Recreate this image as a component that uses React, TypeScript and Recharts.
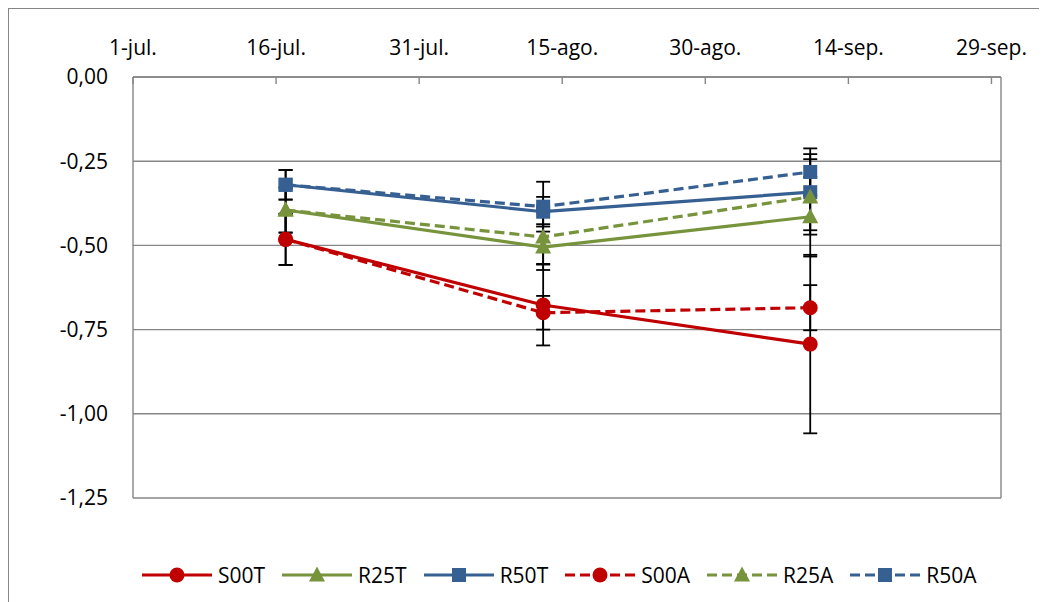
import React from "react";
import { CartesianGrid, ErrorBar, Legend, Line, LineChart, ReferenceLine, XAxis, YAxis } from "recharts";

// sampling dates, as days after 1-jul.
const days = [16, 43, 71];

const xTicks = [0, 15, 30, 45, 60, 75, 90];
const xTickLabels = ["1-jul.", "16-jul.", "31-jul.", "15-ago.", "30-ago.", "14-sep.", "29-sep."];
const yTicks = [0, -0.25, -0.5, -0.75, -1, -1.25];

const S00T = [-0.482, -0.677, -0.793];
const R25T = [-0.395, -0.505, -0.415];
const R50T = [-0.32, -0.4, -0.342];
const S00A = [-0.482, -0.7, -0.685];
const R25A = [-0.395, -0.475, -0.356];
const R50A = [-0.32, -0.385, -0.282];

const S00T_err = [0.076, 0.12, 0.265];
const R25T_err = [0.067, 0.068, 0.118];
const R50T_err = [0.044, 0.044, 0.113];
const S00A_err = [0.076, 0.05, 0.067];
const R25A_err = [0.067, 0.08, 0.112];
const R50A_err = [0.044, 0.074, 0.07];

const RED = "#C00000";
const GREEN = "#77933C";
const BLUE = "#376092";
const GRID = "#868686";

type Shape = "circle" | "triangle" | "square";
type Series = { key: string; color: string; dashed: boolean; shape: Shape; values: number[]; errors: number[] };

const series: Series[] = [
  { key: "S00T", color: RED, dashed: false, shape: "circle", values: S00T, errors: S00T_err },
  { key: "R25T", color: GREEN, dashed: false, shape: "triangle", values: R25T, errors: R25T_err },
  { key: "R50T", color: BLUE, dashed: false, shape: "square", values: R50T, errors: R50T_err },
  { key: "S00A", color: RED, dashed: true, shape: "circle", values: S00A, errors: S00A_err },
  { key: "R25A", color: GREEN, dashed: true, shape: "triangle", values: R25A, errors: R25A_err },
  { key: "R50A", color: BLUE, dashed: true, shape: "square", values: R50A, errors: R50A_err },
];

const data = days.map((d, i) => {
  const row: Record<string, number> = { day: d };
  series.forEach((s) => {
    row[s.key] = s.values[i];
    row[s.key + "_err"] = s.errors[i];
  });
  return row;
});

function Marker({ cx, cy, shape, color }: { cx: number; cy: number; shape: Shape; color: string }) {
  if (shape === "circle") return <circle cx={cx} cy={cy} r={7.5} fill={color} />;
  if (shape === "square") return <rect x={cx - 7} y={cy - 7} width={14} height={14} fill={color} />;
  return <polygon points={`${cx},${cy - 8.5} ${cx - 8},${cy + 6.5} ${cx + 8},${cy + 6.5}`} fill={color} />;
}

const fmtY = (v: number) => v.toFixed(2).replace(".", ",").replace("-0,00", "0,00");

function LegendBox() {
  return (
    <div
      style={{
        height: 104,
        boxSizing: "border-box",
        paddingTop: 50,
        paddingLeft: 133,
        display: "flex",
        alignItems: "center",
        fontFamily: "'Open Sans', sans-serif",
        fontSize: 21,
        color: "#000",
      }}
    >
      {series.map((s) => (
        <div key={s.key} style={{ display: "flex", alignItems: "center", height: 24, marginRight: 17 }}>
          <svg width={70} height={24}>
            <line
              x1={0}
              y1={12}
              x2={70}
              y2={12}
              stroke={s.color}
              strokeWidth={3.2}
              strokeDasharray={s.dashed ? "10 5" : undefined}
            />
            <Marker cx={35} cy={12} shape={s.shape} color={s.color} />
          </svg>
          <span style={{ marginLeft: 6, lineHeight: "24px" }}>{s.key}</span>
        </div>
      ))}
    </div>
  );
}

export default function App() {
  return (
    <div
      style={{
        width: 1039,
        height: 594,
        borderTop: `1px solid ${GRID}`,
        borderLeft: `1px solid ${GRID}`,
        fontFamily: "'Open Sans', sans-serif",
        overflow: "hidden",
      }}
    >
      <LineChart width={1038} height={593} data={data} margin={{ top: 0, right: 46, bottom: 0, left: 0 }}>
        <CartesianGrid vertical={false} stroke={GRID} strokeWidth={1.4} />
        <XAxis
          dataKey="day"
          type="number"
          orientation="top"
          domain={[0, 91]}
          ticks={xTicks}
          interval={0}
          height={68}
          tickSize={-7}
          tickMargin={29}
          stroke={GRID}
          strokeWidth={1.4}
          tick={{ fill: "#000", fontSize: 21 }}
          tickFormatter={(v: number) => xTickLabels[xTicks.indexOf(v)]}
        />
        <YAxis
          type="number"
          domain={[-1.25, 0]}
          ticks={yTicks}
          interval={0}
          width={124}
          tickLine={false}
          tickSize={0}
          tickMargin={25}
          stroke={GRID}
          strokeWidth={1.4}
          tick={{ fill: "#000", fontSize: 21 }}
          tickFormatter={fmtY}
        />
        <ReferenceLine x={91} stroke={GRID} strokeWidth={1.4} />
        <Legend verticalAlign="bottom" height={104} content={() => <LegendBox />} />
        {series.map((s) => (
          <Line
            key={s.key}
            type="linear"
            dataKey={s.key}
            stroke={s.color}
            strokeWidth={3.2}
            strokeDasharray={s.dashed ? "10 5" : undefined}
            isAnimationActive={false}
            activeDot={false}
            dot={(p: any) => (
              <Marker key={`${s.key}-${p.index}`} cx={p.cx} cy={p.cy} shape={s.shape} color={s.color} />
            )}
          >
            <ErrorBar dataKey={s.key + "_err"} direction="y" width={7} stroke="#000" strokeWidth={1.8} />
          </Line>
        ))}
      </LineChart>
    </div>
  );
}
